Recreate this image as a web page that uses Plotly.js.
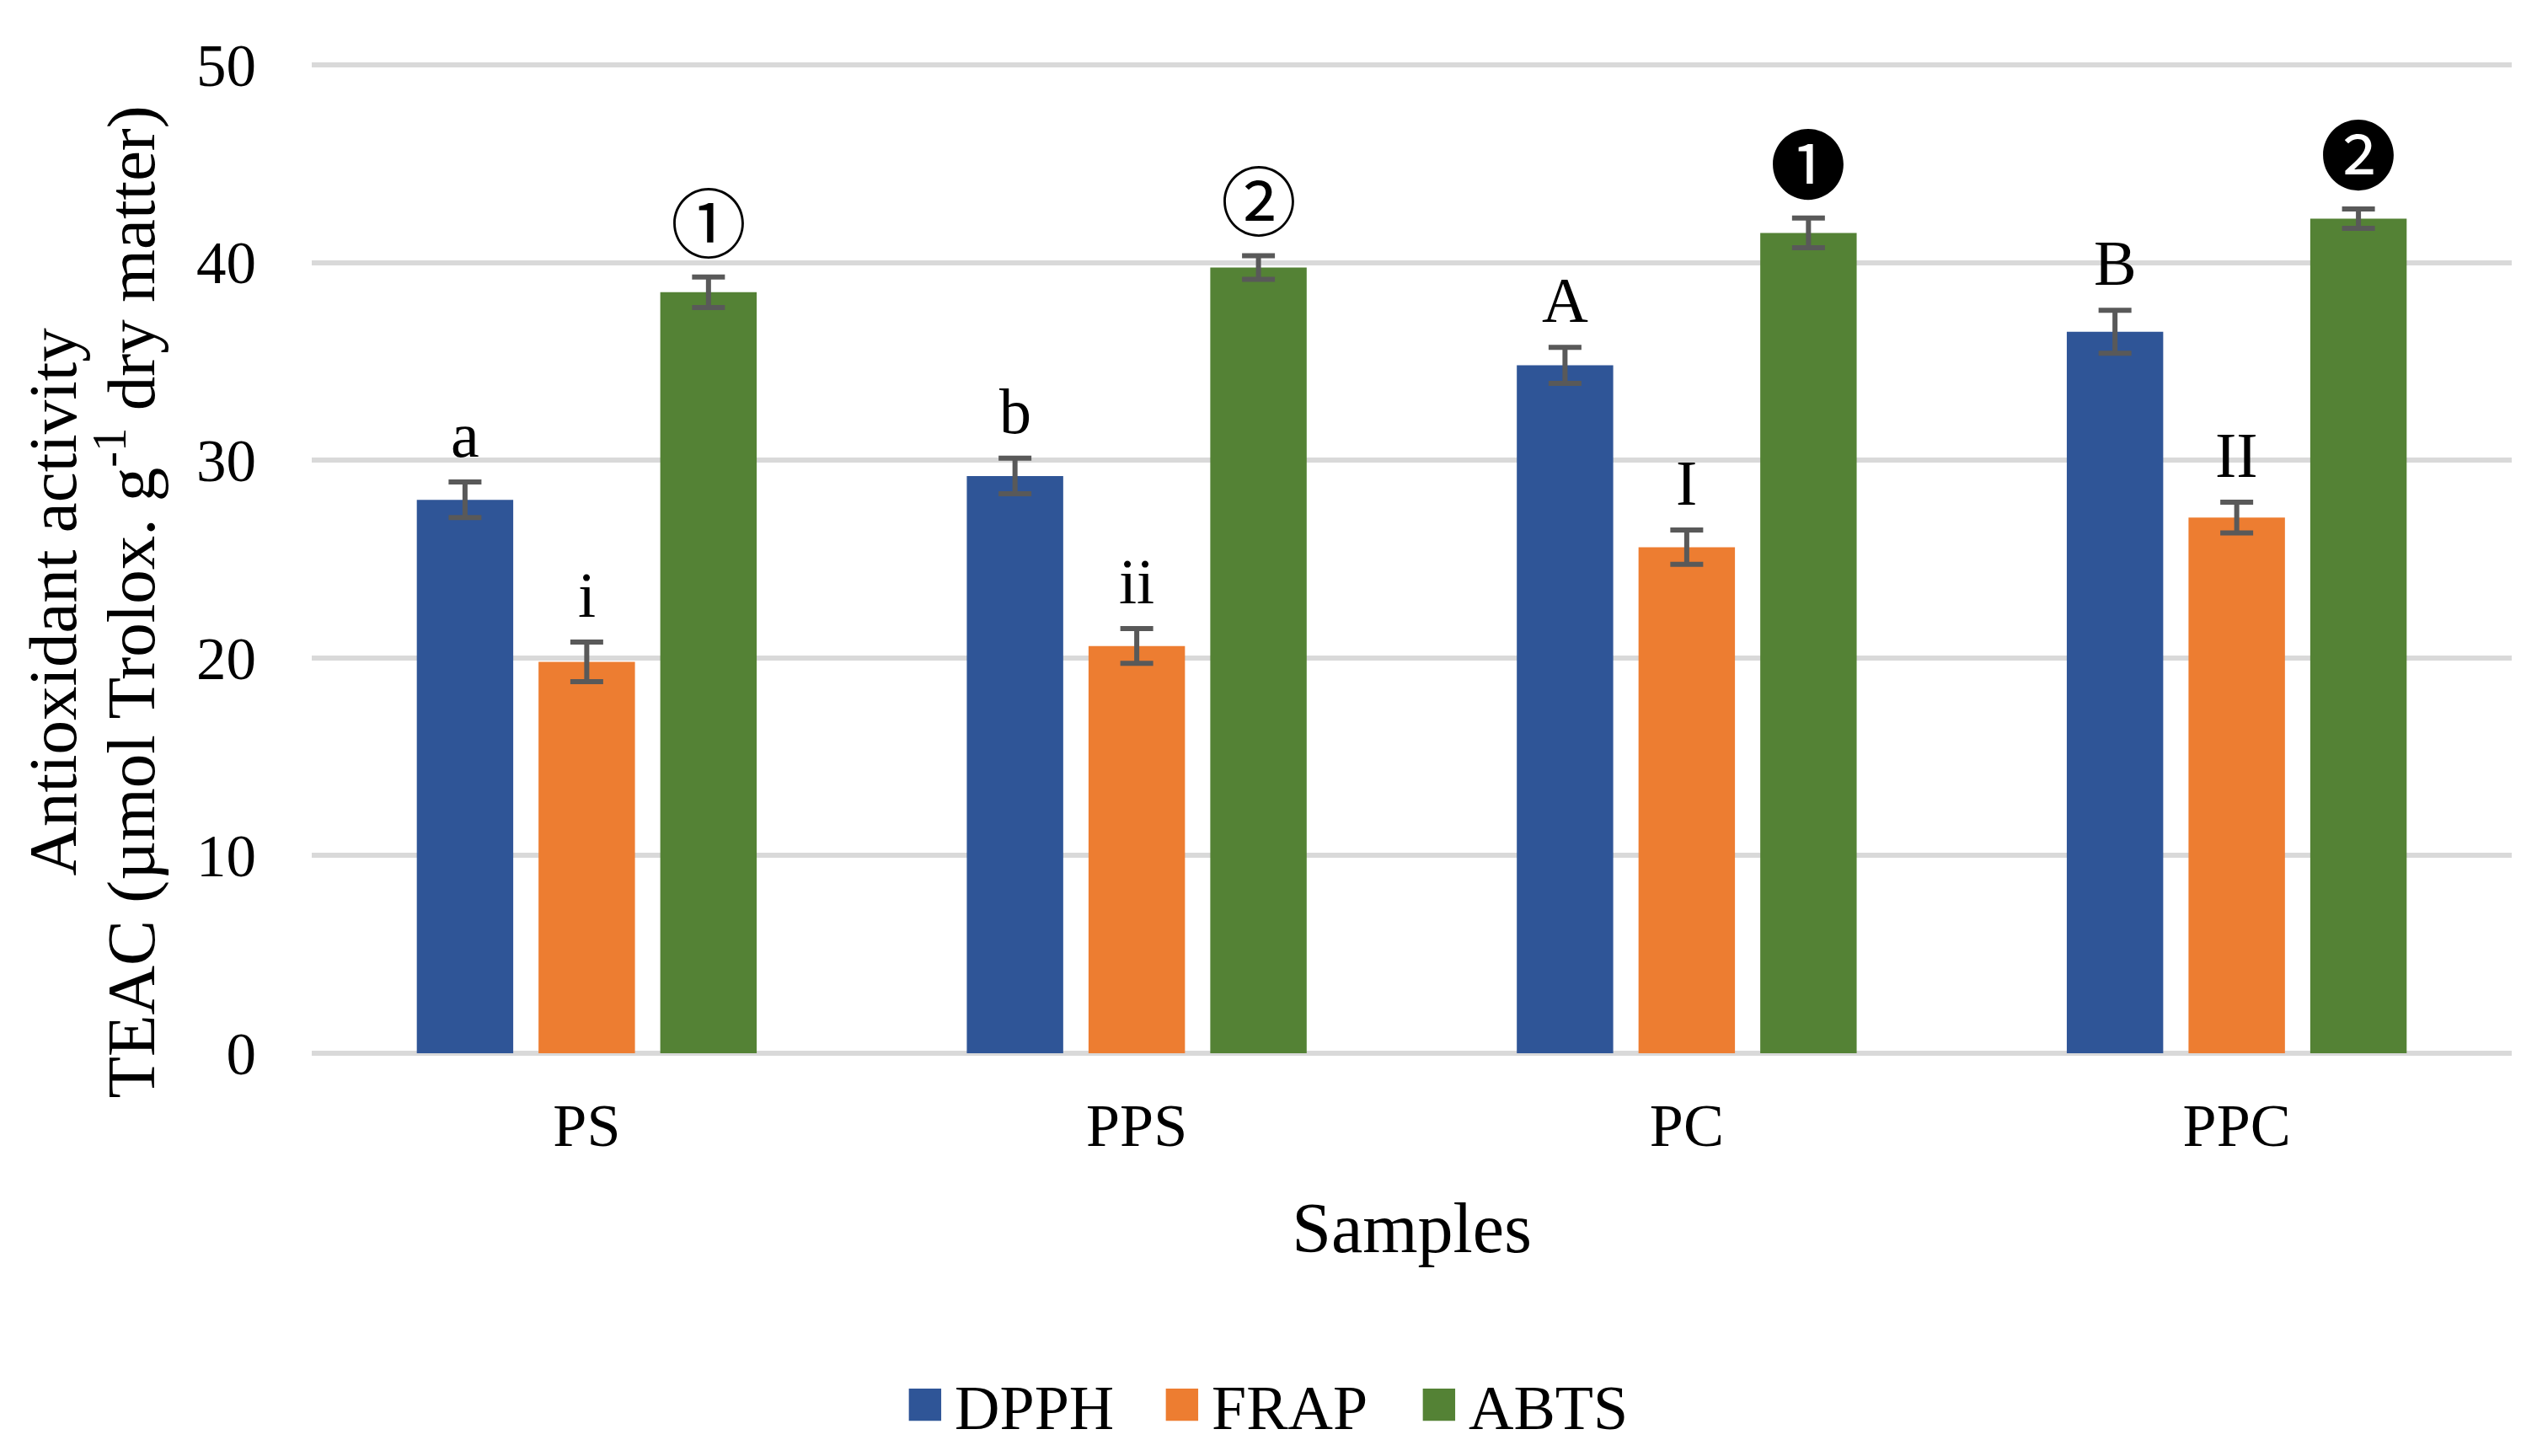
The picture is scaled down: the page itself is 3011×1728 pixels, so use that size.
<!DOCTYPE html>
<html>
<head>
<meta charset="utf-8">
<script src="https://cdn.plot.ly/plotly-3.0.1.min.js"></script>
<style>
  html, body { margin: 0; padding: 0; background: #ffffff; }
  #chart { width: 3011px; height: 1728px; }
</style>
</head>
<body>
<div id="chart"></div>
<script>
// ---- data ----
const categories = ['PS', 'PPS', 'PC', 'PPC'];
const seriesNames = ['DPPH', 'FRAP', 'ABTS'];
const dpph = [28.0, 29.2, 34.8, 36.5];
const dpphErr = [0.90, 0.90, 0.91, 1.09];
const frap = [19.8, 20.6, 25.6, 27.1];
const frapErr = [1.00, 0.88, 0.87, 0.78];
const abts = [38.5, 39.75, 41.5, 42.22];
const abtsErr = [0.77, 0.60, 0.75, 0.49];
const dpphLetters = ['a', 'b', 'A', 'B'];
const frapLetters = ['i', 'ii', 'I', 'II'];
const abtsMarks = ['①', '②', '❶', '❷'];
const yTickVals = [0, 10, 20, 30, 40, 50];

// ---- styling ----
const colors = ['#2F5597', '#ED7D31', '#548235'];
const SERIF = 'Liberation Serif, Times New Roman, serif';
const BARGAP = 0.336;
const BARGROUPGAP = 0.208;

const values = [dpph, frap, abts];
const errs = [dpphErr, frapErr, abtsErr];
const labels = [dpphLetters, frapLetters, abtsMarks];

const traces = seriesNames.map((name, k) => ({
  type: 'bar',
  name: name,
  x: categories,
  y: values[k],
  marker: { color: colors[k] },
  error_y: { type: 'data', array: errs[k], visible: true, color: '#595959', thickness: 6, width: 19.5 },
  hoverinfo: 'skip'
}));

// letters above the error bars
const slot = (1 - BARGAP) / seriesNames.length;
const annotations = [];
labels.forEach((arr, k) => {
  arr.forEach((txt, i) => {
    const isMark = k === 2;
    annotations.push({
      xref: 'x', yref: 'y',
      x: i + (k - 1) * slot,
      y: values[k][i] + errs[k][i],
      text: txt,
      showarrow: false,
      xanchor: 'center', yanchor: 'bottom',
      yshift: isMark ? 2 : 12,
      font: isMark ? { family: 'Noto Sans CJK JP, DejaVu Sans, sans-serif', size: 90, color: '#000' }
                   : { family: SERIF, size: 76, color: '#000' }
    });
  });
});

// y axis title (two lines)
annotations.push({
  xref: 'paper', yref: 'paper', x: -0.1175, y: 0.457,
  text: 'Antioxidant activity', textangle: -90, showarrow: false,
  xanchor: 'center', yanchor: 'middle',
  font: { family: SERIF, size: 81, color: '#000' }
});
annotations.push({
  xref: 'paper', yref: 'paper', x: -0.0845, y: 0.457,
  text: 'TEAC (µmol Trolox. g<sup>-1</sup> dry matter)', textangle: -90, showarrow: false,
  xanchor: 'center', yanchor: 'middle',
  font: { family: SERIF, size: 81, color: '#000' }
});

const layout = {
  width: 3011, height: 1728,
  paper_bgcolor: '#ffffff', plot_bgcolor: '#ffffff',
  margin: { l: 370, r: 30, t: 74, b: 475, pad: 0 },
  barmode: 'group',
  bargap: BARGAP,
  bargroupgap: BARGROUPGAP,
  font: { family: SERIF, size: 72, color: '#000' },
  xaxis: {
    type: 'category',
    showgrid: false, zeroline: false, showline: false,
    ticks: '',
    tickfont: { family: SERIF, size: 72, color: '#000' },
    ticklabelstandoff: 34,
    title: { text: 'Samples', font: { family: SERIF, size: 84, color: '#000' }, standoff: 52 }
  },
  yaxis: {
    range: [-0.13, 50.13],
    tickvals: yTickVals,
    showgrid: true, gridcolor: '#D9D9D9', gridwidth: 6,
    zeroline: false, showline: false,
    ticks: '',
    tickfont: { family: SERIF, size: 71, color: '#000' },
    ticklabelstandoff: 65
  },
  showlegend: true,
  legend: {
    orientation: 'h',
    xref: 'container', yref: 'container',
    x: 0.505, xanchor: 'center',
    y: 0.035, yanchor: 'middle',
    font: { family: SERIF, size: 74, color: '#000' },
    itemwidth: 60,
    entrywidth: 230,
    bgcolor: 'rgba(0,0,0,0)'
  },
  annotations: annotations
};

Plotly.newPlot('chart', traces, layout, { staticPlot: true, displayModeBar: false }).then(() => {
  // enlarge legend swatches and keep a gap before the legend text
  document.querySelectorAll('.legend .traces').forEach(tr => {
    const text = tr.querySelector('text.legendtext');
    tr.querySelectorAll('.legendpoints path').forEach(p => {
      const t = p.getAttribute('transform') || '';
      p.setAttribute('transform', t + ' scale(3.2)');
      if (text) {
        const pr = p.getBoundingClientRect();
        const tx = text.getBoundingClientRect();
        const dx = (tx.left - 16) - pr.right;
        p.setAttribute('transform', 'translate(' + dx + ',0) ' + t + ' scale(3.2)');
      }
    });
  });
});
</script>
</body>
</html>
